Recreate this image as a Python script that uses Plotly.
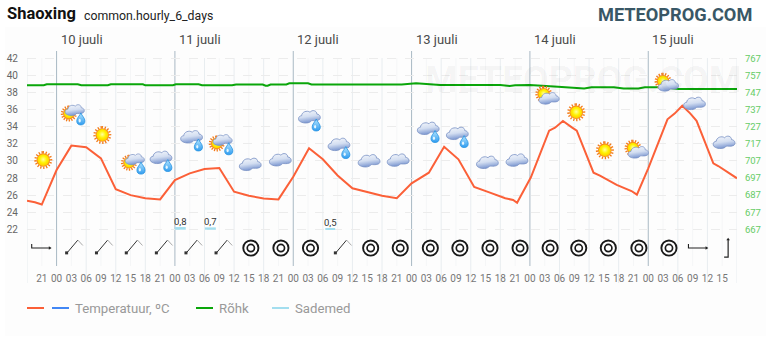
import base64
import plotly.graph_objects as go

# ---------- data (x = hours after 10 July 00:00) ----------
temp_hours = [-6, -4.4, -3, 0, 3, 6, 9, 12, 15, 18, 21, 24, 27, 30, 33, 36, 39, 42, 45, 48, 51.2, 54, 57, 60, 63, 66, 69,
              72, 75.5, 78.6, 81.5, 84.7, 87.9, 91, 92.6, 93.4, 96.2, 99.9, 101.1, 102.7, 104.5, 105.5, 108.9, 110.2,
              113.6, 116.6, 117.7, 120, 123.9, 125.4, 126.9, 128.5, 129.8, 133.2, 134.2, 138]
temp_values = [25.35, 25.16, 24.9, 28.94, 31.8, 31.6, 30.3, 26.7, 26.0, 25.63, 25.5, 27.77, 28.55, 29.06, 29.18, 26.4,
               25.93, 25.6, 25.5, 28.16, 31.5, 30.2, 28.3, 26.8, 26.37, 25.93, 25.63,
               27.38, 28.63, 31.67, 30.2, 26.95, 26.29, 25.63, 25.43, 25.1, 28.09, 33.55, 33.9, 34.68, 33.94, 33.55,
               28.63, 28.28, 27.19, 26.48, 26.05, 29.14, 34.88, 35.58, 36.47, 35.58, 34.7, 29.73, 29.41, 27.97]

pressure_hours = [-6, -2.6, -2, 4.3, 5, 10.4, 11, 17.5, 18, 23.6, 24.2, 28.8, 29.5, 35.6, 36.4, 41.8, 42.4, 42.8, 43.4,
                  46.6, 47.2, 51, 51.7, 70, 72.9, 77.8, 90, 91.9, 93, 96, 101.7, 105, 107, 108.5, 113, 115, 118, 119.3,
                  122.8, 126.2, 138]
pressure_values = [751.3, 751.3, 751.9, 751.9, 751.3, 751.3, 751.9, 751.9, 751.3, 751.3, 751.9, 751.9, 751.3, 751.3,
                   751.8, 751.8, 751.05, 751.05, 751.8, 751.8, 752.5, 752.5, 751.8, 751.8, 752.5, 751.5, 751.5, 750.9,
                   751.3, 751.5, 750.5, 750.1, 749.5, 750.1, 750.1, 749.5, 749.5, 750.1, 750.1, 749.1, 749.1]

precip_hours = [25.1, 31.2, 55.5]
precip_values = [0.8, 0.7, 0.5]
precip_labels = ["0,8", "0,7", "0,5"]
precip_width = [2.2, 2.2, 2.0]

tick_hours = list(range(-3, 136, 3))
tick_labels = ["21", "00", "03", "06", "09", "12", "15", "18"] + \
              ["21", "00", "03", "06", "09", "12", "15", "18"] * 5 + ["21", "00", "03", "06", "09", "12", "15"]
day_hours = [0, 24, 48, 72, 96, 120]
day_labels = ["10 juuli", "11 juuli", "12 juuli", "13 juuli", "14 juuli", "15 juuli"]
temp_ticks = [22, 24, 26, 28, 30, 32, 34, 36, 38, 40, 42]
pressure_ticks = [667, 677, 687, 697, 707, 717, 727, 737, 747, 757, 767]

sun_h = [-2.7, 9.27, 105.4, 111.2]
sun_t = [30.11, 33.04, 35.7, 31.25]
sun_rain_h = [3.7, 15.9, 33.7]
sun_rain_t = [35.96, 30.2, 32.46]
cloud_rain_h = [21.2, 27.4, 51.3, 57.3, 75.4, 81.3]
cloud_rain_t = [30.43, 32.84, 35.18, 31.95, 33.83, 33.24]
cloud_h = [39.3, 45.4, 63.4, 69.3, 87.4, 93.4, 129.4, 135.4]
cloud_t = [29.61, 30.15, 30.03, 30.11, 29.85, 30.11, 36.75, 32.19]
sun_cloud_h = [99.9, 118.0, 124.1]
sun_cloud_t = [37.34, 31.02, 38.86]

wind_east_h = [-3.1, 130.1]
wind_ne_h = [3.6, 9.65, 15.7, 21.8, 27.8, 33.9, 58.1]
wind_calm_h = [39.4, 45.5, 51.5, 63.7, 69.7, 75.8, 81.8, 87.9, 94.0, 100.1, 105.9, 111.9, 118.1, 124.2]
wind_north_h = [136.2]

# ---------- layout geometry ----------
W, H = 770, 340
L, R, T, B = 27, 737, 51, 266
X0, X1 = -6, 138
Y_TOP, Y_BOT = 42.88, 17.70
PXH = (R - L) / (X1 - X0)
PXT = (B - T) / (Y_TOP - Y_BOT)
WIND_ROW = 19.8


def yp(v):
    return (B - v) / (B - T)


def xp(v):
    return (v - L) / (R - L)


# ---------- icons ----------
DEFS = """<defs>
<radialGradient id="s" cx="50%" cy="45%" r="55%"><stop offset="0" stop-color="#ffffa0"/><stop offset=".55" stop-color="#fff200"/><stop offset="1" stop-color="#ffc800"/></radialGradient>
<linearGradient id="c" x1="0" y1="0" x2="0.25" y2="1"><stop offset="0" stop-color="#f6f8fc"/><stop offset=".55" stop-color="#d3def1"/><stop offset="1" stop-color="#7f9ad2"/></linearGradient>
<linearGradient id="d" x1="0" y1="0" x2="0" y2="1"><stop offset="0" stop-color="#b5e6ff"/><stop offset="1" stop-color="#2f9cf0"/></linearGradient>
</defs>"""


def sun(cx, cy, r):
    rays = "".join(
        f'<line x1="{cx}" y1="{cy-r}" x2="{cx}" y2="{cy-r-2.4}" stroke="#f47a18" stroke-width="1.3" transform="rotate({a} {cx} {cy})"/>'
        for a in range(0, 360, 22))
    return rays + f'<circle cx="{cx}" cy="{cy}" r="{r+0.2}" fill="#f58a1c"/><circle cx="{cx}" cy="{cy}" r="{r-0.7}" fill="url(#s)"/>'


def cloud(cx, cy, s=1.05):
    return (f'<g transform="translate({cx} {cy}) scale({s})">'
            '<path d="M-8.5 4.8 C-11.5 3.5 -11 -0.8 -7.5 -1 C-7.5 -4.5 -2.5 -6.5 0.5 -4.3 C2.5 -7 7 -6 7 -2.5 '
            'C10.5 -2.5 11.5 2.2 8.5 3.2 C6 4.2 3.5 3.5 2 3.7 C0 6.5 -5.5 6.5 -8.5 4.8 Z" '
            'fill="url(#c)" stroke="#7c94c6" stroke-width="0.8"/></g>')


def drop(cx, cy):
    return (f'<g transform="translate({cx} {cy}) scale(1.1)"><path d="M0 -5.6 C1 -3 3.7 -1 3.7 1.6 A3.7 3.7 0 0 1 -3.7 1.6 '
            'C-3.7 -1 -1 -3 0 -5.6 Z" fill="url(#d)" stroke="#1f8fe0" stroke-width="0.7"/>'
            '<ellipse cx="-1" cy="1.4" rx="1" ry="1.6" fill="#e4f6ff"/></g>')


def uri(body):
    svg = (f'<svg xmlns="http://www.w3.org/2000/svg" width="120" height="120" viewBox="-20 -20 40 40">{DEFS}{body}</svg>')
    return "data:image/svg+xml;base64," + base64.b64encode(svg.encode()).decode()


ICON_SUN = uri(sun(0, 0, 6.6))
ICON_CLOUD = uri(cloud(0, 0))
ICON_CLOUD_RAIN = uri(cloud(0, 0) + drop(6.7, 8.4))
ICON_SUN_RAIN = uri(sun(-6, 3.5, 5.6) + cloud(0, 0, 0.92) + drop(6, 9))
ICON_SUN_CLOUD = uri(sun(-5.5, -4.2, 6) + cloud(0, 0, 0.98))

LINE = 'stroke="#222" fill="none"'
ICON_E = uri(f'<path d="M-9.6 -4 V0 H9 " {LINE} stroke-width="1.1"/><path d="M7.5 -1.8 L10.3 0 L7.5 1.8 Z" fill="#222"/>')
ICON_NE = uri('<path d="M-7.2 4.7 L3.5 -8" stroke="#333" stroke-width="1" fill="none"/>'
              '<path d="M3.5 -8 L8.5 -2.6" stroke="#aaa" stroke-width="1" fill="none"/>'
              '<rect x="-9.2" y="3.3" width="3" height="3" fill="#333"/>')
ICON_N = uri(f'<path d="M-4 9 H0 V-8.5" {LINE} stroke-width="1.2"/><path d="M-1.8 -7.8 L0 -10.4 L1.8 -7.8 Z" fill="#222"/>')
ICON_CALM = uri('<circle r="7.6" fill="#fff" stroke="#1a1a1a" stroke-width="1.9"/>'
                '<circle r="3.6" fill="#fff" stroke="#1a1a1a" stroke-width="1.7"/>')

images = []


def place(src, hours, values, px=40):
    for h, v in zip(hours, values):
        images.append(dict(source=src, xref="x", yref="y", x=h, y=v, sizex=px / PXH, sizey=px / PXT,
                           xanchor="center", yanchor="middle", sizing="stretch", layer="above"))


place(ICON_SUN, sun_h, sun_t)
place(ICON_SUN_RAIN, sun_rain_h, sun_rain_t)
place(ICON_CLOUD_RAIN, cloud_rain_h, cloud_rain_t)
place(ICON_CLOUD, cloud_h, cloud_t)
place(ICON_SUN_CLOUD, sun_cloud_h, sun_cloud_t)
place(ICON_E, wind_east_h, [WIND_ROW] * len(wind_east_h))
place(ICON_NE, wind_ne_h, [WIND_ROW] * len(wind_ne_h))
place(ICON_CALM, wind_calm_h, [WIND_ROW] * len(wind_calm_h))
place(ICON_N, wind_north_h, [WIND_ROW] * len(wind_north_h))

# ---------- traces ----------
fig = go.Figure()
fig.add_trace(go.Bar(x=precip_hours, y=precip_values, width=precip_width, yaxis="y3", marker_color="#a3deef",
                     marker_line_width=0, name="Sademed", showlegend=False))
fig.add_trace(go.Scatter(x=pressure_hours, y=pressure_values, yaxis="y2", mode="lines",
                         line=dict(color="#0aa60a", width=2), name="Rõhk", showlegend=False))
fig.add_trace(go.Scatter(x=temp_hours, y=temp_values, mode="lines", line=dict(color="#fb6038", width=2),
                         name="Temperatuur, ºC", showlegend=False))

# ---------- grid and decorations ----------
shapes = [dict(type="rect", xref="paper", yref="paper", x0=xp(5), x1=xp(766), y0=yp(336), y1=yp(27),
               fillcolor="#fdfdfd", line_width=0, layer="below")]
for h in [t for t in tick_hours if t % 3 == 0 and t % 6 != 0]:
    shapes.append(dict(type="line", xref="x", yref="paper", x0=h, x1=h, y0=yp(266), y1=yp(58),
                       line=dict(color="#f5f6f7", width=1), layer="below"))
for h in [X0] + [t for t in tick_hours if t % 6 == 0 and t % 24 != 0] + [X1]:
    shapes.append(dict(type="line", xref="x", yref="paper", x0=h, x1=h, y0=yp(283), y1=yp(58),
                       line=dict(color="#e8edf0", width=1), layer="below"))
for h in day_hours:
    shapes.append(dict(type="line", xref="x", yref="paper", x0=h, x1=h, y0=0, y1=1,
                       line=dict(color="#a9b9c4", width=1), layer="below"))

annotations = []


def text(x, y, s, size, color, anchor="left", bold=False, layer_font="Roboto"):
    annotations.append(dict(xref="paper", yref="paper", x=xp(x), y=yp(y), text=f"<b>{s}</b>" if bold else s,
                            showarrow=False, xanchor=anchor, yanchor="middle", borderpad=0,
                            font=dict(family=layer_font, size=size, color=color)))


text(6, 14, "Shaoxing", 16.5, "#111", bold=True)
text(83, 15.5, "common.hourly_6_days", 12.3, "#222")
text(753, 14.5, "METEOPROG.COM", 18.2, "#395766", anchor="right", bold=True)
text(424, 79, "METEOPROG.COM", 37.3, "rgba(0,0,0,0.045)", bold=True)

for h, lab in zip(day_hours, day_labels):
    annotations.append(dict(xref="x", yref="paper", x=h, y=yp(39.5), text=lab, showarrow=False, xanchor="left",
                            yanchor="middle", xshift=2, font=dict(family="Roboto", size=13, color="#4a4a4a")))

for h, v, lab in zip(precip_hours, precip_values, precip_labels):
    annotations.append(dict(xref="x", yref="y3", x=h, y=v, text=lab, showarrow=False, xanchor="center",
                            yanchor="bottom", yshift=-2, font=dict(family="Roboto", size=9.5, color="#333")))

for x0, x1, col in [(27, 44, "#fb5f37"), (52, 69, "#4287f5"), (196, 213, "#0aa60a"), (272, 289, "#a3deef")]:
    shapes.append(dict(type="line", xref="paper", yref="paper", x0=xp(x0), x1=xp(x1), y0=yp(308), y1=yp(308),
                       line=dict(color=col, width=2)))
text(74, 308, "Temperatuur, ºC", 13.2, "#999")
text(218, 308, "Rõhk", 13.2, "#999")
text(294, 308, "Sademed", 13.2, "#999")

fig.update_layout(
    width=W, height=H, autosize=False, paper_bgcolor="#ffffff", plot_bgcolor="rgba(0,0,0,0)",
    margin=dict(l=L, r=W - R, t=T, b=H - B, pad=0, autoexpand=False), showlegend=False, barmode="overlay",
    font=dict(family="Roboto"),
    xaxis=dict(range=[X0, X1], tickmode="array", tickvals=tick_hours, ticktext=tick_labels, showgrid=False,
               automargin=False, zeroline=False, showline=False, ticks="outside", ticklen=3,
               tickcolor="rgba(0,0,0,0)", tickangle=0, tickfont=dict(family="Roboto", size=10, color="#777")),
    yaxis=dict(range=[Y_BOT, Y_TOP], tickmode="array", tickvals=temp_ticks, showgrid=True, gridcolor="#ececec",
               griddash="dash", gridwidth=1, zeroline=False, showline=False, ticks="outside", ticklen=6,
               automargin=False, tickcolor="rgba(0,0,0,0)", tickfont=dict(family="Roboto", size=10, color="#666")),
    yaxis2=dict(range=[667 + (Y_BOT - 22) * 5, 667 + (Y_TOP - 22) * 5], overlaying="y", side="right", anchor="x",
                tickmode="array", tickvals=pressure_ticks, showgrid=False, zeroline=False, showline=False,
                automargin=False, ticks="outside", ticklen=5, tickcolor="rgba(0,0,0,0)",
                tickfont=dict(family="Roboto", size=9.5, color="#66cc66")),
    yaxis3=dict(range=[-11, 54.15], overlaying="y", side="left", anchor="x", visible=False, fixedrange=True),
    shapes=shapes, annotations=annotations, images=images,
)

fig.write_html("out.html", config=dict(displayModeBar=False), post_script=
               "document.body.style.margin='0';document.body.style.background='#fff';")
